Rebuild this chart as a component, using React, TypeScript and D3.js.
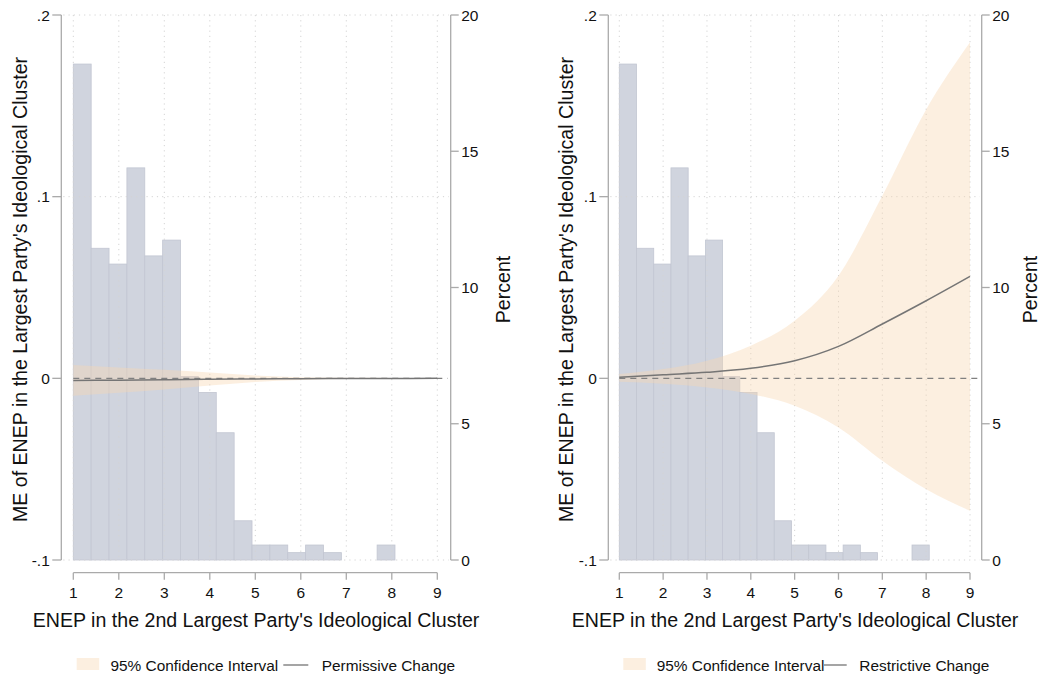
import React from "react";
import * as d3 from "d3";

// Evaluation points for the marginal effect curves
const X_POINTS = [1, 2, 3, 4, 5, 6, 7, 8, 9];

// Permissive change: marginal effect and 95% CI
const PERM_ME = [-0.0012, -0.001, -0.0008, -0.0005, -0.0003, -0.0002, -0.0001, -0.0001, 0];
const PERM_LO = [-0.0096, -0.008, -0.0062, -0.004, -0.002, -0.0009, -0.0004, -0.0002, -0.0001];
const PERM_HI = [0.0073, 0.006, 0.0047, 0.0032, 0.0015, 0.0006, 0.0003, 0.0002, 0.0001];

// Restrictive change: marginal effect and 95% CI
const REST_ME = [0.0006, 0.002, 0.0033, 0.0055, 0.0097, 0.0176, 0.0299, 0.0427, 0.0561];
const REST_LO = [-0.0019, -0.003, -0.005, -0.0086, -0.0151, -0.027, -0.0453, -0.061, -0.0729];
const REST_HI = [0.0024, 0.0051, 0.0097, 0.018, 0.0317, 0.0565, 0.1005, 0.148, 0.185];

// Histogram of the moderator (percent of observations per bin)
const HIST_START = 1;
const HIST_END = 8.07;
const HIST_PCT = [18.2, 11.44, 10.86, 14.39, 11.16, 11.74, 6.73, 6.15, 4.67, 1.44, 0.55, 0.55, 0.27, 0.55, 0.27, 0, 0, 0.55];

// Axis ticks
const X_TICKS = [1, 2, 3, 4, 5, 6, 7, 8, 9];
const Y_TICKS = [-0.1, 0, 0.1, 0.2];
const Y_TICK_LABELS = ["-.1", "0", ".1", ".2"];
const PCT_TICKS = [0, 5, 10, 15, 20];

const X_TITLE = "ENEP in the 2nd Largest Party's Ideological Cluster";
const Y_TITLE = "ME of ENEP in the Largest Party's Ideological Cluster";
const Y2_TITLE = "Percent";
const CI_LABEL = "95% Confidence Interval";

const FONT = "'Liberation Sans', Arial, Helvetica, sans-serif";
const AXIS_COLOR = "#aaaaaa";
const GRID_COLOR = "#d4d4d4";
const BAR_FILL = "#d0d4de";
const BAR_STROKE = "#c2c6d2";
const CI_FILL = "#f8d6b2";
const LINE_COLOR = "#757575";

const TICK_FS = 15.5;
const TITLE_FS = 19.6;
const LEGEND_FS = 15.4;

type PanelProps = {
  left: number; // y axis line
  right: number; // percent axis line
  x0: number; // pixel of x = 1
  x1: number; // pixel of x = 9
  yTitleX: number;
  pctTitleX: number;
  me: number[];
  lo: number[];
  hi: number[];
  legendSwatchX: number;
  legendTextX: number;
  legendLineX0: number;
  legendLineX1: number;
  legendLabelX: number;
  label: string;
};

const TOP = 15;
const BOTTOM = 560;
const XAXIS_Y = 572.7;

function Panel(p: PanelProps) {
  const x = d3.scaleLinear().domain([1, 9]).range([p.x0, p.x1]);
  const y = d3.scaleLinear().domain([-0.1, 0.2]).range([BOTTOM, TOP]);
  const yPct = d3.scaleLinear().domain([0, 20]).range([BOTTOM, TOP]);

  const binW = (HIST_END - HIST_START) / HIST_PCT.length;
  const bins = HIST_PCT.map((v, i) => ({ x0: HIST_START + i * binW, x1: HIST_START + (i + 1) * binW, v }));

  const pts = X_POINTS.map((xv, i) => ({ x: xv, me: p.me[i], lo: p.lo[i], hi: p.hi[i] }));
  const area = d3
    .area<typeof pts[number]>()
    .x((d) => x(d.x))
    .y0((d) => y(d.lo))
    .y1((d) => y(d.hi))
    .curve(d3.curveMonotoneX);
  const line = d3
    .line<typeof pts[number]>()
    .x((d) => x(d.x))
    .y((d) => y(d.me))
    .curve(d3.curveMonotoneX);

  const midY = (TOP + BOTTOM) / 2;
  const midX = (p.left + p.right) / 2;

  return (
    <g fontFamily={FONT}>
      {/* histogram */}
      {bins.map((b, i) =>
        b.v > 0 ? (
          <rect
            key={"b" + i}
            x={x(b.x0)}
            y={yPct(b.v)}
            width={x(b.x1) - x(b.x0)}
            height={BOTTOM - yPct(b.v)}
            fill={BAR_FILL}
            stroke={BAR_STROKE}
            strokeWidth={0.8}
          />
        ) : null
      )}
      {/* grid */}
      {Y_TICKS.filter((t) => t !== 0).map((t) => (
        <line
          key={"gy" + t}
          x1={p.left + 2}
          x2={p.right - 2}
          y1={y(t)}
          y2={y(t)}
          stroke={GRID_COLOR}
          strokeWidth={1}
          strokeDasharray="1.2,4"
        />
      ))}
      {X_TICKS.map((t) => (
        <line
          key={"gx" + t}
          x1={x(t)}
          x2={x(t)}
          y1={TOP}
          y2={BOTTOM}
          stroke={GRID_COLOR}
          strokeWidth={1}
          strokeDasharray="1.2,4"
        />
      ))}
      {/* confidence band */}
      <path d={area(pts) || ""} fill={CI_FILL} fillOpacity={0.4} />
      {/* zero reference */}
      <line
        x1={x(1)}
        x2={p.right - 3}
        y1={y(0)}
        y2={y(0)}
        stroke="#808080"
        strokeWidth={1.3}
        strokeDasharray="6,5"
      />
      {/* marginal effect */}
      <path d={line(pts) || ""} fill="none" stroke={LINE_COLOR} strokeWidth={1.5} />

      {/* left axis */}
      <line x1={p.left} x2={p.left} y1={TOP} y2={BOTTOM} stroke={AXIS_COLOR} strokeWidth={1.3} />
      {Y_TICKS.map((t, i) => (
        <g key={"yt" + t}>
          <line x1={p.left - 9} x2={p.left} y1={y(t)} y2={y(t)} stroke={AXIS_COLOR} strokeWidth={1.3} />
          <text x={p.left - 11.5} y={y(t) + 5.5} textAnchor="end" fontSize={TICK_FS} fill="#111">
            {Y_TICK_LABELS[i]}
          </text>
        </g>
      ))}
      {/* right axis */}
      <line x1={p.right} x2={p.right} y1={TOP} y2={BOTTOM} stroke={AXIS_COLOR} strokeWidth={1.3} />
      {PCT_TICKS.map((t) => (
        <g key={"pt" + t}>
          <line x1={p.right} x2={p.right + 8} y1={yPct(t)} y2={yPct(t)} stroke={AXIS_COLOR} strokeWidth={1.3} />
          <text x={p.right + 10.5} y={yPct(t) + 5.5} textAnchor="start" fontSize={TICK_FS} fill="#111">
            {t}
          </text>
        </g>
      ))}
      {/* bottom axis */}
      <line x1={x(1)} x2={x(9)} y1={XAXIS_Y} y2={XAXIS_Y} stroke={AXIS_COLOR} strokeWidth={1.3} />
      {X_TICKS.map((t) => (
        <g key={"xt" + t}>
          <line x1={x(t)} x2={x(t)} y1={XAXIS_Y} y2={XAXIS_Y + 7} stroke={AXIS_COLOR} strokeWidth={1.3} />
          <text x={x(t)} y={598} textAnchor="middle" fontSize={TICK_FS} fill="#111">
            {t}
          </text>
        </g>
      ))}
      {/* titles */}
      <text x={midX} y={626.5} textAnchor="middle" fontSize={TITLE_FS} fill="#111">
        {X_TITLE}
      </text>
      <text
        transform={`translate(${p.yTitleX},${midY + 2}) rotate(-90)`}
        textAnchor="middle"
        fontSize={TITLE_FS}
        fill="#111"
      >
        {Y_TITLE}
      </text>
      <text
        transform={`translate(${p.pctTitleX},${midY + 2}) rotate(-90)`}
        textAnchor="middle"
        fontSize={TITLE_FS}
        fill="#111"
      >
        {Y2_TITLE}
      </text>
      {/* legend */}
      <rect x={p.legendSwatchX} y={658} width={22.5} height={12} fill={CI_FILL} fillOpacity={0.4} />
      <text x={p.legendTextX} y={670.5} fontSize={LEGEND_FS} fill="#111">
        {CI_LABEL}
      </text>
      <line x1={p.legendLineX0} x2={p.legendLineX1} y1={665} y2={665} stroke={LINE_COLOR} strokeWidth={1.3} />
      <text x={p.legendLabelX} y={670.5} fontSize={LEGEND_FS} fill="#111">
        {p.label}
      </text>
    </g>
  );
}

export default function App() {
  return (
    <svg
      width={1063}
      height={675}
      style={{ position: "absolute", left: 0, top: 0, background: "#fff" }}
    >
      <rect x={0} y={0} width={1063} height={675} fill="#fff" />
      <Panel
        left={61.3}
        right={450.7}
        x0={73.3}
        x1={437.3}
        yTitleX={26.5}
        pctTitleX={509.5}
        me={PERM_ME}
        lo={PERM_LO}
        hi={PERM_HI}
        legendSwatchX={76.7}
        legendTextX={110.5}
        legendLineX0={283.3}
        legendLineX1={308.3}
        legendLabelX={321.7}
        label="Permissive Change"
      />
      <Panel
        left={608.3}
        right={981.7}
        x0={619.3}
        x1={970}
        yTitleX={573}
        pctTitleX={1037}
        me={REST_ME}
        lo={REST_LO}
        hi={REST_HI}
        legendSwatchX={623.3}
        legendTextX={656.7}
        legendLineX0={824}
        legendLineX1={846.7}
        legendLabelX={859.3}
        label="Restrictive Change"
      />
    </svg>
  );
}
